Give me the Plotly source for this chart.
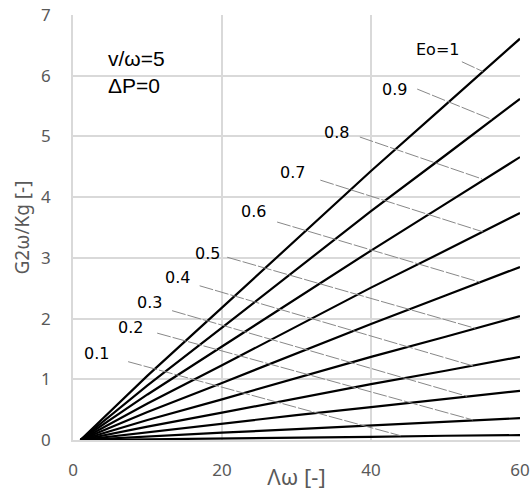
import plotly.graph_objects as go

# Data
lam = [1, 10, 20, 30, 40, 50, 60]
eo_labels = ["0.1", "0.2", "0.3", "0.4", "0.5", "0.6", "0.7", "0.8", "0.9", "Eo=1"]
g_01 = [0, 0.01, 0.03, 0.04, 0.05, 0.07, 0.08]
g_02 = [0, 0.06, 0.12, 0.18, 0.24, 0.30, 0.36]
g_03 = [0, 0.13, 0.27, 0.41, 0.54, 0.68, 0.81]
g_04 = [0, 0.22, 0.45, 0.69, 0.92, 1.14, 1.37]
g_05 = [0, 0.33, 0.67, 1.02, 1.37, 1.70, 2.04]
g_06 = [0, 0.46, 0.94, 1.43, 1.91, 2.38, 2.85]
g_07 = [0, 0.60, 1.23, 1.87, 2.51, 3.12, 3.74]
g_08 = [0, 0.75, 1.54, 2.33, 3.12, 3.89, 4.66]
g_09 = [0, 0.90, 1.85, 2.81, 3.77, 4.69, 5.62]
g_10 = [0, 1.06, 2.18, 3.31, 4.43, 5.52, 6.61]
series = [g_01, g_02, g_03, g_04, g_05, g_06, g_07, g_08, g_09, g_10]
x_ticks = [0, 20, 40, 60]
y_ticks = [0, 1, 2, 3, 4, 5, 6, 7]

# Label placement (layout)
label_xy = [(3.2, 1.43), (7.7, 1.86), (10.3, 2.26), (14.0, 2.67), (18.1, 3.08),
            (24.2, 3.76), (29.4, 4.40), (35.4, 5.06), (43.2, 5.78), (48.9, 6.44)]
leader_start = [(7.4, 1.29), (11.3, 1.76), (13.3, 2.13), (17.0, 2.54), (20.7, 3.01),
                (27.4, 3.59), (33.2, 4.28), (38.5, 4.99), (46.2, 5.78), (52.2, 6.23)]
leader_end = [(44.0, 0.07), (53.7, 0.33), (52.9, 0.72), (53.7, 1.22), (54.0, 1.84),
              (54.6, 2.60), (55.0, 3.43), (54.9, 4.30), (56.2, 5.28), (55.0, 6.07)]

fig = go.Figure()
for s in series:
    fig.add_trace(go.Scatter(x=lam, y=s, mode="lines",
                             line=dict(color="black", width=2.2), showlegend=False,
                             hoverinfo="skip"))

for (x0, y0), (x1, y1) in zip(leader_start, leader_end):
    fig.add_shape(type="line", xref="x", yref="y", x0=x0, y0=y0, x1=x1, y1=y1,
                  line=dict(color="#888888", width=1, dash="14px,2px"), layer="above")

for txt, (x, y) in zip(eo_labels, label_xy):
    fig.add_annotation(x=x, y=y, xref="x", yref="y", text=txt, showarrow=False,
                       font=dict(family="DejaVu Sans", size=16, color="black"))

fig.add_annotation(x=4.4, y=6.5, xref="x", yref="y", text="v/ω=5<br>ΔP=0",
                   showarrow=False, xanchor="left", yanchor="top", align="left",
                   font=dict(family="Liberation Sans", size=21, color="black"))

grid = "#d9d9d9"
fig.update_layout(
    width=531, height=491,
    margin=dict(l=73, r=11, t=15, b=51, autoexpand=False),
    plot_bgcolor="white", paper_bgcolor="white",
    xaxis=dict(range=[0, 60], tickvals=x_ticks, showgrid=True, gridcolor=grid,
               gridwidth=1.5, zeroline=False, showline=True, linecolor=grid,
               linewidth=1.5, mirror=False, ticks="", ticklabelstandoff=14,
               automargin=False,
               tickfont=dict(family="Noto Sans", size=17, color="#595959"),
               title=dict(text="Λω [-]", standoff=2,
                          font=dict(family="Noto Sans", size=22, color="#595959"))),
    yaxis=dict(range=[0, 7], tickvals=y_ticks, showgrid=True, gridcolor=grid,
               gridwidth=1.5, zeroline=False, showline=True, linecolor=grid,
               linewidth=1.5, ticks="", ticklabelstandoff=17, automargin=False,
               tickfont=dict(family="Noto Sans", size=17, color="#595959"),
               title=dict(text="G2ω/Kg [-]", standoff=6,
                          font=dict(family="Noto Sans", size=19, color="#595959"))),
)

fig.write_html("out.html", config={"displayModeBar": False},
               post_script="document.body.style.margin='0';"
                           "document.body.style.overflow='hidden';")
